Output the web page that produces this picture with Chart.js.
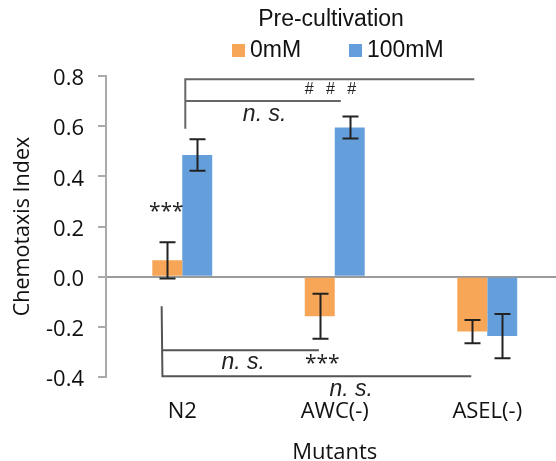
<!DOCTYPE html>
<html><head><meta charset="utf-8">
<script src="https://cdn.jsdelivr.net/npm/chart.js@4"></script>
<style>html,body{margin:0;padding:0;overflow:hidden;background:#fff}#wrap{width:570px;height:461px;position:relative}</style>
</head><body><div id="wrap"><canvas id="c"></canvas></div>
<script>
const categories = ['N2', 'AWC(-)', 'ASEL(-)'];
const seriesNames = ['0mM', '100mM'];
const values0mM = [0.065, -0.158, -0.219];
const values100mM = [0.485, 0.595, -0.237];
const errors0mM = [0.072, 0.090, 0.046];
const errors100mM = [0.063, 0.044, 0.088];
const yTickValues = [-0.4, -0.2, 0.0, 0.2, 0.4, 0.6, 0.8];
const legendTitle = 'Pre-cultivation';
const xAxisTitle = 'Mutants';
const yAxisTitle = 'Chemotaxis Index';
// significance brackets, in data units (x = category index offset, y = axis value)
const bracketLines = [
  { pts: [[0.02, 0.59], [0.02, 0.787], [1.915, 0.787]], color: '#666' },
  { pts: [[0.02, 0.70], [1.04, 0.70]], color: '#666' },
  { pts: [[-0.135, -0.118], [-0.13, -0.397], [1.895, -0.397]], color: '#555' },
  { pts: [[-0.13, -0.293], [0.896, -0.293]], color: '#555' }
];
const bracketLabels = [
  { text: '# # #', x: 0.985, y: 0.745, style: 'small' },
  { text: 'n. s.', x: 0.54, y: 0.645, style: 'italic' },
  { text: '***', x: -0.105, y: 0.258, style: 'star' },
  { text: 'n. s.', x: 0.40, y: -0.344, style: 'italic' },
  { text: '***', x: 0.918, y: -0.35, style: 'star' },
  { text: 'n. s.', x: 1.108, y: -0.452, style: 'italic' }
];
const colors = ['#F7A657', '#649FDB'];

const fontStyles = {
  small: { font: '16px "Liberation Sans"', spacing: '4px' },
  italic: { font: 'italic 23px "Liberation Sans"', spacing: '0px' },
  star: { font: '21px "Open Sans"', spacing: '0px' }
};

const overlay = {
  id: 'overlay',
  afterDatasetsDraw(chart) {
    const ctx = chart.ctx, ys = chart.scales.y;
    const errs = [errors0mM, errors100mM];
    ctx.save();
    ctx.strokeStyle = '#222';
    ctx.lineWidth = 2;
    errs.forEach((e, di) => {
      const meta = chart.getDatasetMeta(di);
      meta.data.forEach((bar, i) => {
        const v = chart.data.datasets[di].data[i];
        const x = Math.round(bar.x) + 0.5;
        const yt = ys.getPixelForValue(v + e[i]);
        const yb = ys.getPixelForValue(v - e[i]);
        ctx.beginPath();
        ctx.moveTo(x, yt); ctx.lineTo(x, yb);
        ctx.moveTo(x - 8, yt); ctx.lineTo(x + 8, yt);
        ctx.moveTo(x - 8, yb); ctx.lineTo(x + 8, yb);
        ctx.stroke();
      });
    });
    ctx.restore();
  },
  afterDraw(chart) {
    const ctx = chart.ctx, xs = chart.scales.x, ys = chart.scales.y;
    const px = v => xs.getPixelForValue(0) + v * (xs.getPixelForValue(1) - xs.getPixelForValue(0));
    ctx.save();
    ctx.lineWidth = 2;
    bracketLines.forEach(b => {
      ctx.strokeStyle = b.color;
      ctx.beginPath();
      b.pts.forEach((p, k) => {
        const x = px(p[0]), y = ys.getPixelForValue(p[1]);
        if (k === 0) ctx.moveTo(x, y); else ctx.lineTo(x, y);
      });
      ctx.stroke();
    });
    ctx.fillStyle = '#222';
    ctx.textAlign = 'center';
    ctx.textBaseline = 'middle';
    bracketLabels.forEach(l => {
      const st = fontStyles[l.style];
      ctx.font = st.font;
      ctx.letterSpacing = st.spacing;
      ctx.fillText(l.text, px(l.x), ys.getPixelForValue(l.y));
    });
    ctx.letterSpacing = '0px';
    // legend
    ctx.fillStyle = '#111';
    ctx.font = '23px "Liberation Sans"';
    ctx.fillText(legendTitle, 331, 20);
    const itemX = [232, 349];
    ctx.textAlign = 'left';
    chart.data.datasets.forEach((ds, i) => {
      ctx.fillStyle = ds.backgroundColor;
      ctx.fillRect(itemX[i], 44, 13, 13);
      ctx.fillStyle = '#111';
      ctx.fillText(ds.label, itemX[i] + 18, 51);
    });
    ctx.restore();
  }
};

new Chart(document.getElementById('c'), {
  type: 'bar',
  data: {
    labels: categories,
    datasets: [
      { label: seriesNames[0], data: values0mM, backgroundColor: colors[0] },
      { label: seriesNames[1], data: values100mM, backgroundColor: colors[1] }
    ]
  },
  options: {
    responsive: true,
    maintainAspectRatio: false,
    animation: false,
    events: [],
    layout: { padding: { top: 76, right: 6.5, left: 0, bottom: 0 } },
    datasets: { bar: { barPercentage: 1.0, categoryPercentage: 0.393 } },
    plugins: { legend: { display: false }, tooltip: { enabled: false } },
    scales: {
      x: {
        grid: { display: false, drawTicks: false },
        border: { display: false },
        ticks: { color: '#111', font: { family: 'Open Sans', size: 22 }, padding: 22 },
        title: { display: true, text: xAxisTitle, color: '#111', font: { family: 'Open Sans', size: 22 }, padding: { top: 0, bottom: -5 } },
        afterFit(s) { s.height = 84; }
      },
      y: {
        min: -0.4, max: 0.8,
        afterBuildTicks(s) { s.ticks = yTickValues.map(v => ({ value: v })); },
        grid: {
          color: c => (c.tick && Math.abs(c.tick.value) < 1e-9) ? '#9a9a9a' : 'rgba(0,0,0,0)',
          lineWidth: 2,
          tickColor: '#aaa',
          tickLength: 8
        },
        border: { display: true, color: '#aaa', width: 2 },
        ticks: {
          color: '#111', font: { family: 'Open Sans', size: 22 }, padding: 14, labelOffset: 3,
          callback: v => (Math.abs(v) < 1e-9 ? 0 : v).toFixed(1)
        },
        title: { display: true, text: yAxisTitle, color: '#111', font: { family: 'Open Sans', size: 21.5 }, padding: { top: 10, bottom: 0 } },
        afterFit(s) { s.width = 106; }
      }
    }
  },
  plugins: [overlay]
});
</script>
</body></html>
